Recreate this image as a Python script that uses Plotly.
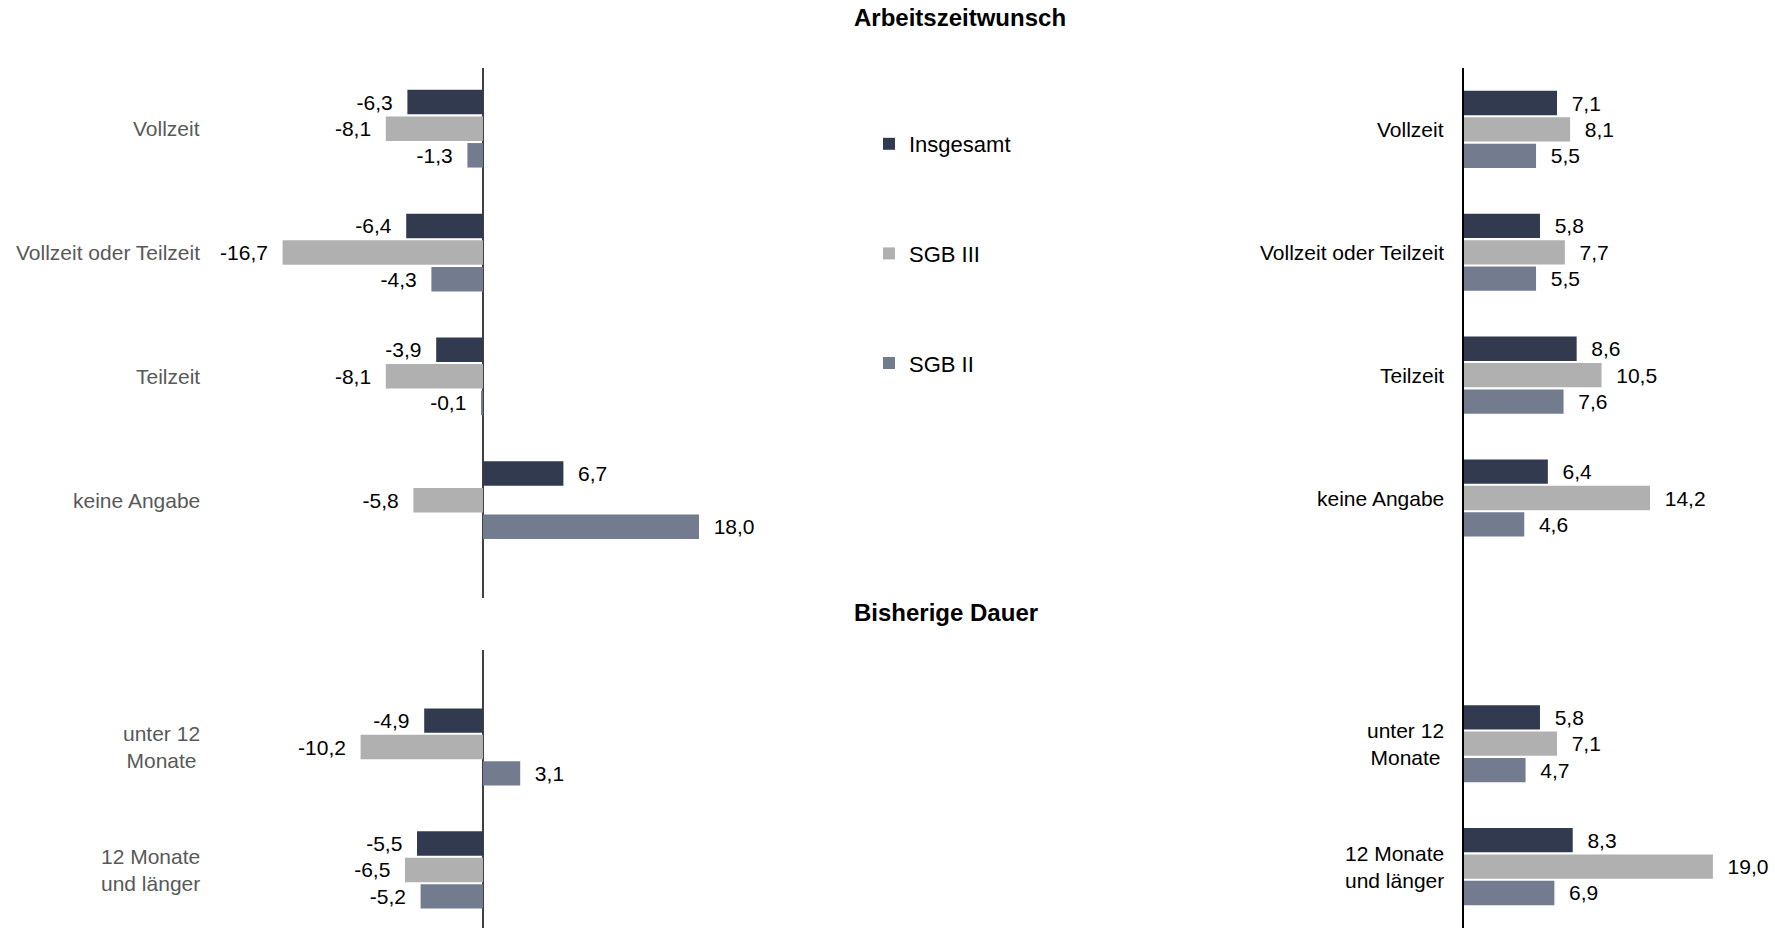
import plotly.graph_objects as go

W, H = 1775, 928

# ---------------- data ----------------
series_names = ["Insgesamt", "SGB III", "SGB II"]
series_colors = ["#323A50", "#B0B0B0", "#737B8F"]

cats_top = ["Vollzeit", "Vollzeit oder Teilzeit", "Teilzeit", "keine Angabe"]
cats_bottom = ["unter 12<br>Monate", "12 Monate<br>und länger"]

# left panel (Arbeitszeitwunsch)
left_top_insg = [-6.3, -6.4, -3.9, 6.7]
left_top_sgb3 = [-8.1, -16.7, -8.1, -5.8]
left_top_sgb2 = [-1.3, -4.3, -0.1, 18.0]

# left panel (Bisherige Dauer)
left_bot_insg = [-4.9, -5.5]
left_bot_sgb3 = [-10.2, -6.5]
left_bot_sgb2 = [3.1, -5.2]

# right panel
right_top_insg = [7.1, 5.8, 8.6, 6.4]
right_top_sgb3 = [8.1, 7.7, 10.5, 14.2]
right_top_sgb2 = [5.5, 5.5, 7.6, 4.6]
right_bot_insg = [5.8, 8.3]
right_bot_sgb3 = [7.1, 19.0]
right_bot_sgb2 = [4.7, 6.9]

title_top = "Arbeitszeitwunsch"
title_bottom = "Bisherige Dauer"

FONT = "Liberation Sans, Arial, sans-serif"
NB = "\u00a0\u00a0"


def tt(vals):
    out = []
    for v in vals:
        if v is None:
            out.append("")
        elif v < 0:
            out.append("%{x:.1f}" + NB)
        else:
            out.append(NB + "%{x:.1f}")
    return out


fig = go.Figure()

left_top = [left_top_insg, left_top_sgb3, left_top_sgb2]
left_bot = [left_bot_insg, left_bot_sgb3, left_bot_sgb2]
right_cats = cats_top + [" "] + cats_bottom
right_vals = [
    right_top_insg + [None] + right_bot_insg,
    right_top_sgb3 + [None] + right_bot_sgb3,
    right_top_sgb2 + [None] + right_bot_sgb2,
]

for i, name in enumerate(series_names):
    common = dict(
        orientation="h",
        marker=dict(color=series_colors[i], line=dict(width=0)),
        textposition="outside",
        textfont=dict(family=FONT, size=21, color="#000000"),
        constraintext="none",
        cliponaxis=False,
        name=name,
        legendgroup=name,
    )
    fig.add_trace(go.Bar(x=left_top[i], y=cats_top, xaxis="x", yaxis="y",
                         texttemplate=tt(left_top[i]), showlegend=True, **common))
    fig.add_trace(go.Bar(x=left_bot[i], y=cats_bottom, xaxis="x2", yaxis="y2",
                         texttemplate=tt(left_bot[i]), showlegend=False, **common))
    fig.add_trace(go.Bar(x=right_vals[i], y=right_cats, xaxis="x3", yaxis="y3",
                         texttemplate=tt(right_vals[i]), showlegend=False, **common))

# ---------------- layout geometry ----------------
def px_x(p):
    return p / W


def px_y(p):
    return 1 - p / H


left_dom = [px_x(210), px_x(800)]
left_zero = 483
left_scale = 12.0
left_range = [(210 - left_zero) / left_scale, (800 - left_zero) / left_scale]

right_zero = 1464
right_scale = 13.1
right_dom = [px_x(right_zero), 1.0]
right_range = [0, (W - right_zero) / right_scale]

noaxis = dict(showgrid=False, showticklabels=False, ticks="", title=None)

fig.update_layout(
    width=W, height=H,
    margin=dict(l=0, r=0, t=0, b=0),
    paper_bgcolor="white", plot_bgcolor="white",
    separators=",.",
    barmode="group", bargap=0.355, bargroupgap=0.08,
    font=dict(family=FONT, size=21, color="#000000"),
    xaxis=dict(domain=left_dom, range=left_range, anchor="y", zeroline=True,
               zerolinecolor="#404040", zerolinewidth=2, showline=False, **noaxis),
    yaxis=dict(domain=[px_y(598), px_y(68)], anchor="x", type="category",
               categoryarray=cats_top, range=[3.79, -0.49], showline=False,
               zeroline=False, **noaxis),
    xaxis2=dict(domain=left_dom, range=left_range, anchor="y2", zeroline=True,
                zerolinecolor="#404040", zerolinewidth=2, showline=False, **noaxis),
    yaxis2=dict(domain=[0, px_y(650)], anchor="x2", type="category",
                categoryarray=cats_bottom, range=[1.472, -0.789], showline=False,
                zeroline=False, **noaxis),
    xaxis3=dict(domain=right_dom, range=right_range, anchor="y3", zeroline=False,
                showline=False, **noaxis),
    yaxis3=dict(domain=[0, px_y(68)], anchor="x3", type="category",
                categoryarray=right_cats, range=[6.5, -0.5], showline=True,
                linecolor="#000000", linewidth=2, zeroline=False, **noaxis),
    legend=dict(x=px_x(869), y=px_y(123), xanchor="left", yanchor="top",
                font=dict(family=FONT, size=22, color="#000000"),
                tracegroupgap=78, traceorder="grouped", bgcolor="rgba(0,0,0,0)"),
    showlegend=True,
)

ann = []
for c in cats_top:
    ann.append(dict(text=c, x=px_x(202), xref="paper", y=c, yref="y",
                    xanchor="right", yanchor="middle", align="center", showarrow=False,
                    font=dict(family=FONT, size=21, color="#595959")))
for c in cats_bottom:
    ann.append(dict(text=c, x=px_x(202), xref="paper", y=c, yref="y2",
                    xanchor="right", yanchor="middle", align="center", showarrow=False,
                    font=dict(family=FONT, size=21, color="#595959")))
for c in cats_top + cats_bottom:
    ann.append(dict(text=c, x=px_x(1446), xref="paper", y=c, yref="y3",
                    xanchor="right", yanchor="middle", align="center", showarrow=False,
                    font=dict(family=FONT, size=21, color="#000000")))
ann.append(dict(text="<b>" + title_top + "</b>", x=px_x(960), y=px_y(18), xref="paper",
                yref="paper", xanchor="center", yanchor="middle", showarrow=False,
                font=dict(family=FONT, size=24, color="#000000")))
ann.append(dict(text="<b>" + title_bottom + "</b>", x=px_x(946), y=px_y(612), xref="paper",
                yref="paper", xanchor="center", yanchor="middle", showarrow=False,
                font=dict(family=FONT, size=24, color="#000000")))
fig.update_layout(annotations=ann)

fig.write_html("out.html")
